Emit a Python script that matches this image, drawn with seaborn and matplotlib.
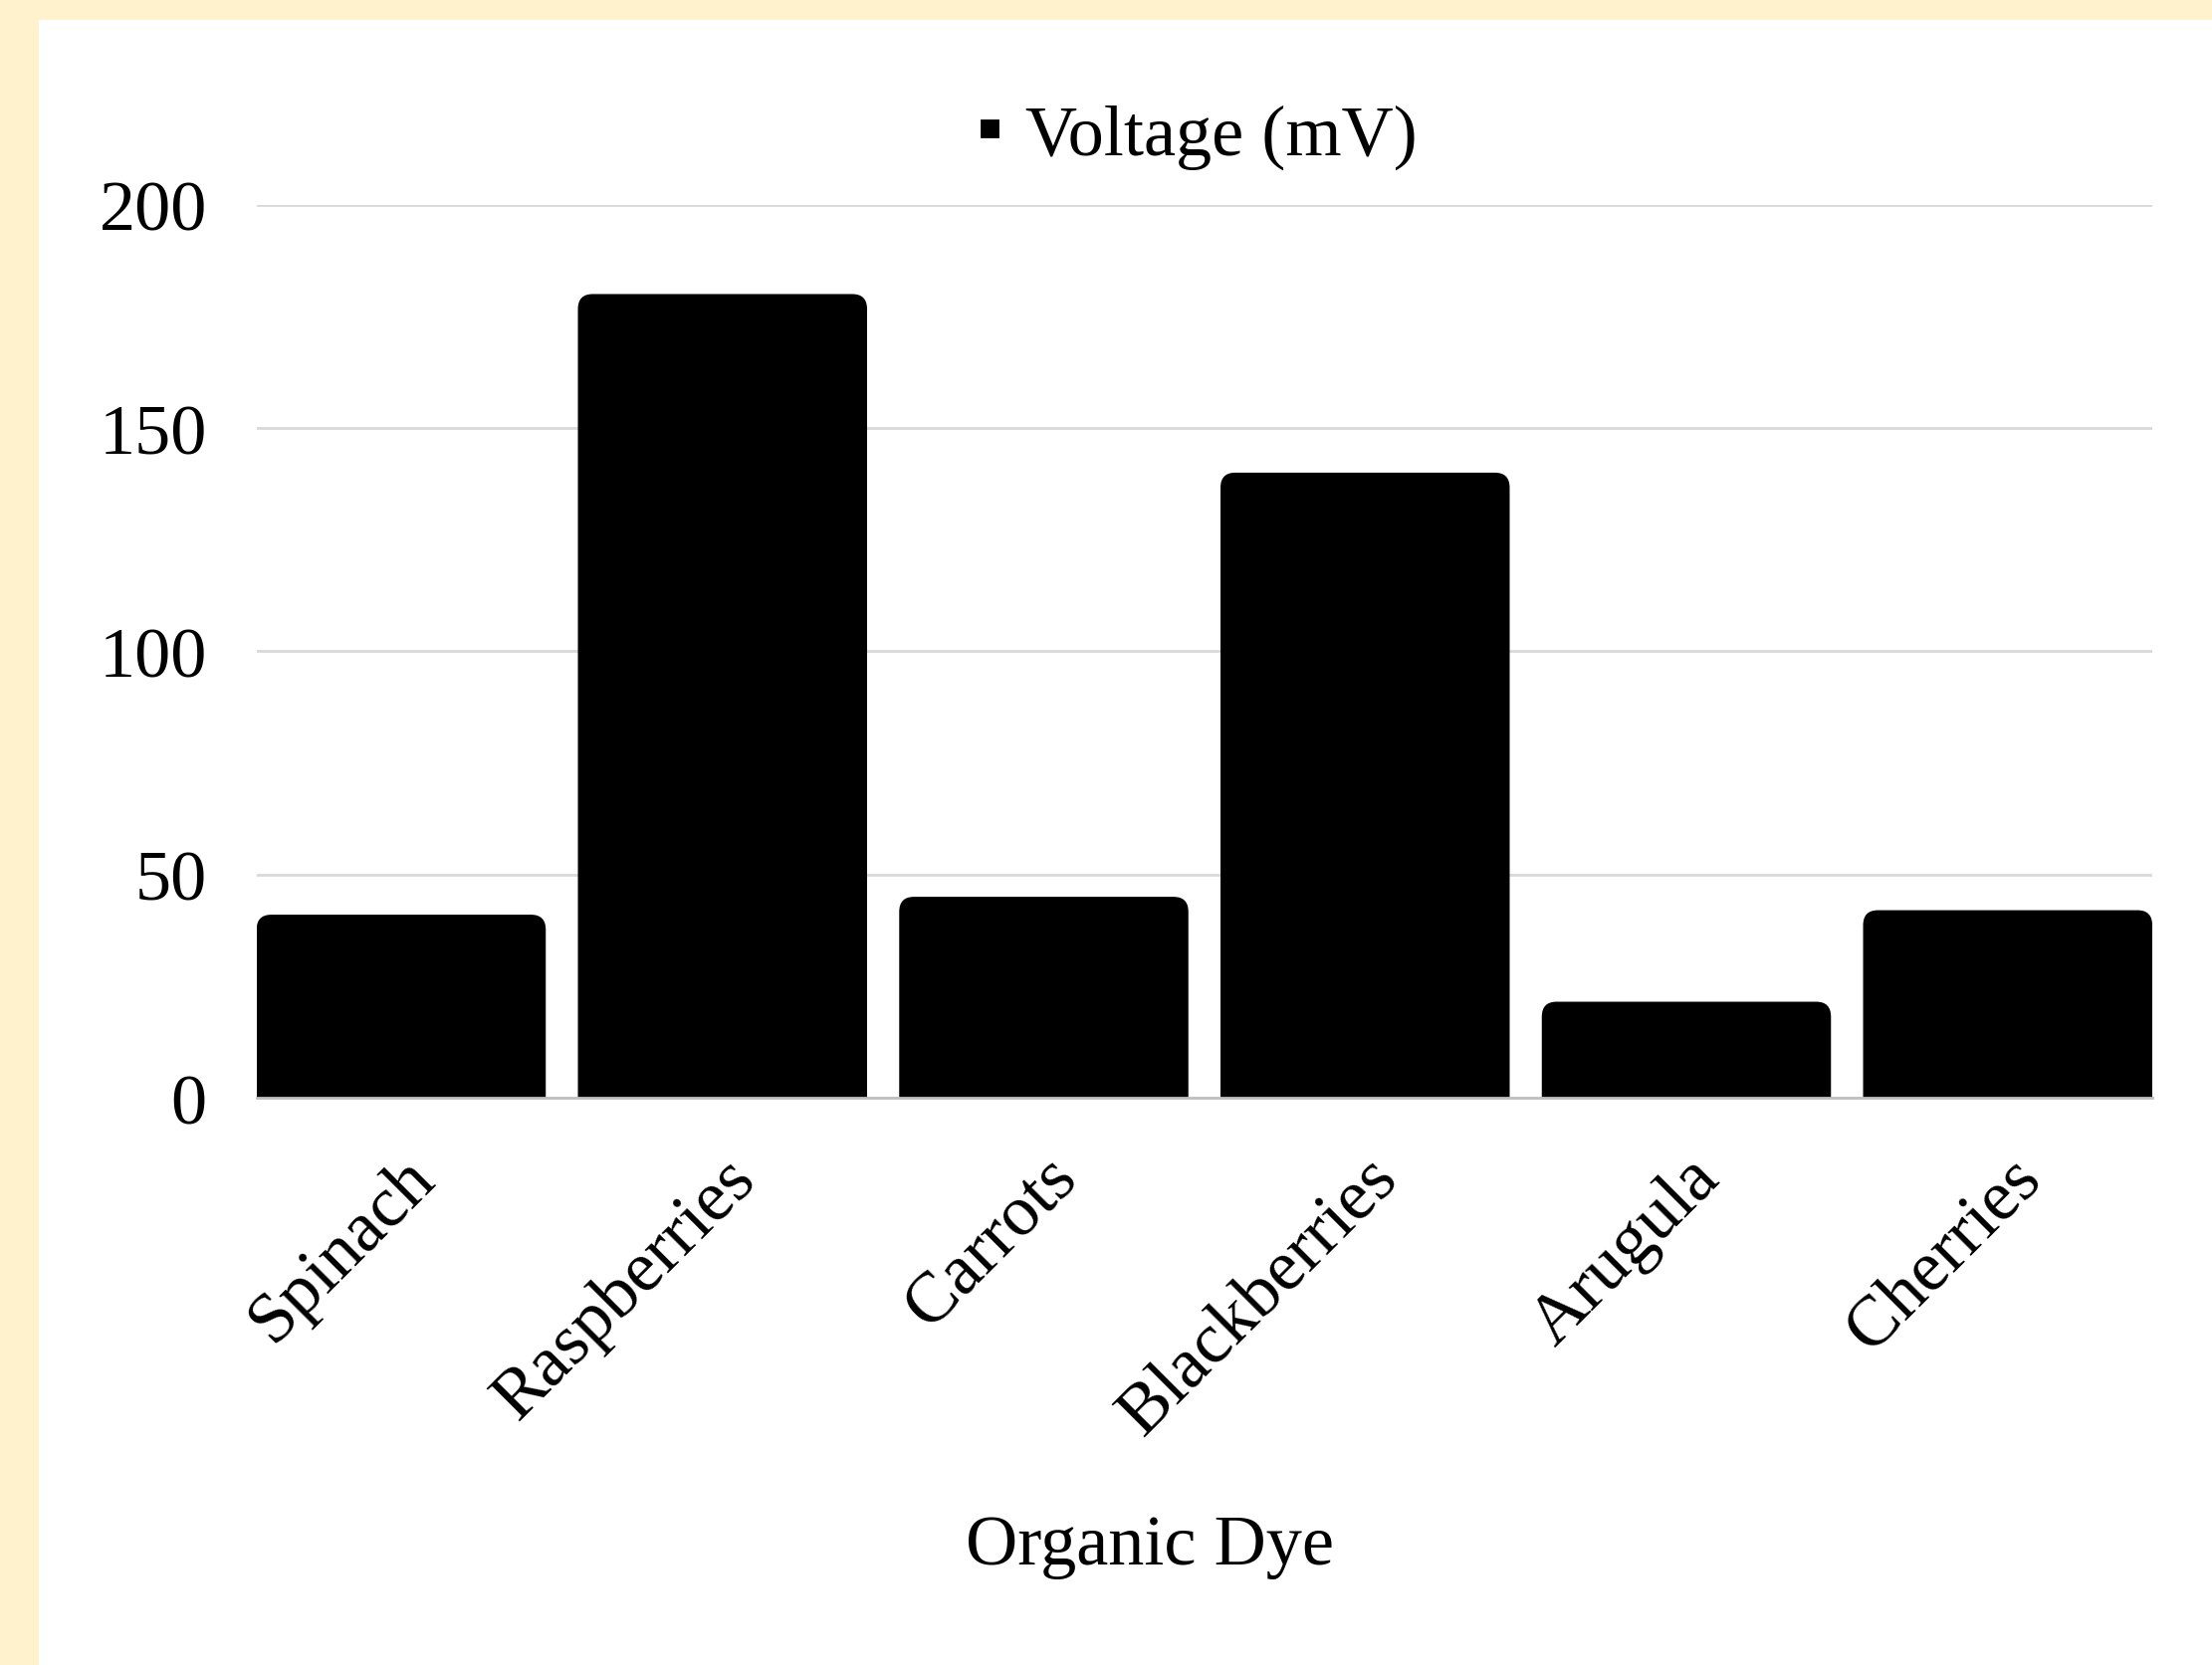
import matplotlib
matplotlib.use("Agg")
import matplotlib.pyplot as plt
import seaborn as sns
import pandas as pd
from matplotlib.patches import FancyBboxPatch, Rectangle
from matplotlib.lines import Line2D

dyes = ["Spinach", "Raspberries", "Carrots", "Blackberries", "Arugula", "Cherries"]
voltage = [41, 180, 45, 140, 21.5, 42]
series_name = "Voltage (mV)"
y_ticks = [0, 50, 100, 150, 200]

df = pd.DataFrame({"dye": dyes, "voltage": voltage})

sns.set_theme(style="white")
plt.rcParams["font.family"] = ["Liberation Serif", "DejaVu Serif"]

fig = plt.figure(figsize=(11.11, 8.37), dpi=200)
fig.patch.set_facecolor("white")
# cream strips at top and left of the canvas
cream = "#FFF2CC"
fig.add_artist(Rectangle((0, 0), 0.0176, 1, transform=fig.transFigure,
                         facecolor=cream, edgecolor="none", zorder=0))
fig.add_artist(Rectangle((0, 1 - 0.0125), 1, 0.0125, transform=fig.transFigure,
                         facecolor=cream, edgecolor="none", zorder=0))

ax = fig.add_axes([0.116, 0.3405, 0.857, 0.536])
ax.set_facecolor("white")

sns.barplot(data=df, x="dye", y="voltage", color="black", width=0.9,
            saturation=1, ax=ax)

# swap the plain rectangles for bars with rounded top corners
r = 0.046
for p in list(ax.patches):
    x0, w, h = p.get_x(), p.get_width(), p.get_height()
    p.remove()
    fb = FancyBboxPatch((x0, -10), w, h + 10,
                        boxstyle=f"round,pad=0,rounding_size={r}",
                        mutation_aspect=3.35 / r,
                        facecolor="black", edgecolor="none", zorder=3)
    ax.add_patch(fb)

ax.set_xlim(-0.45, len(dyes) - 0.55)
ax.set_ylim(0, 200)
ax.set_yticks(y_ticks)
ax.yaxis.grid(True, color="#d9d9d9", linewidth=1.0, zorder=0)
ax.set_axisbelow(True)
for s in ["left", "right", "top"]:
    ax.spines[s].set_visible(False)
ax.spines["bottom"].set_color("#bfbfbf")
ax.spines["bottom"].set_linewidth(1.0)
ax.spines["bottom"].set_zorder(4)

ax.tick_params(axis="y", length=0, pad=18, labelsize=26, labelcolor="black")
ax.tick_params(axis="x", length=0, pad=17, labelsize=26, labelcolor="black")
plt.setp(ax.get_xticklabels(), rotation=45, ha="right", va="top",
         rotation_mode="anchor")

ax.set_xlabel("Organic Dye", fontsize=26, color="black")
ax.xaxis.set_label_coords(0.471, -0.502)
ax.xaxis.label.set_va("center")
ax.set_ylabel("")

handle = Line2D([], [], marker="s", color="black", linestyle="none", markersize=6)
leg = ax.legend([handle], [series_name], loc="center",
                bbox_to_anchor=(0.492, 1.077), frameon=False, fontsize=26,
                handletextpad=0.1, handlelength=0.8, labelcolor="black")

fig.savefig("out.png", dpi=200, facecolor=fig.get_facecolor())
